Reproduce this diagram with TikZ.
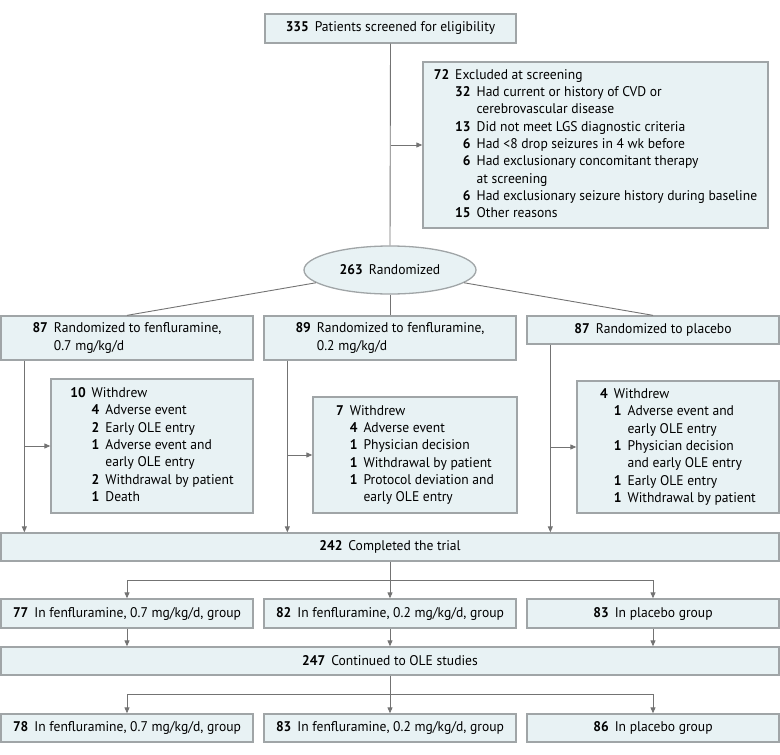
\documentclass[tikz,border=0pt]{standalone}
\usepackage{fontspec}
\setmainfont{PT Sans}[FakeStretch=0.97]
\usetikzlibrary{arrows.meta,shapes.geometric,calc}
\definecolor{boxfill}{RGB}{232,242,244}
\definecolor{boxline}{RGB}{160,165,167}
\definecolor{linecol}{RGB}{115,115,115}
\newcommand\nb[1]{\textbf{#1}}
\tikzset{
  box/.style={draw=boxline, line width=1.3pt, fill=boxfill, inner sep=0pt, align=center,
    font=\fontsize{14}{17.3}\selectfont},
  conn/.style={draw=linecol, line width=0.9pt},
  arr/.style={conn, -{Triangle[length=6pt,width=5pt]}},
}
\begin{document}
\begin{tikzpicture}[x=1pt,y=-1pt]
\useasboundingbox (0,0) rectangle (780,755);

\node[box, minimum width=251, minimum height=29] (scr) at (390.5,28.5)
  {\nb{335}\hspace{6pt}Patients screened for eligibility};

\node[box, minimum width=345, minimum height=166] (excl) at (595.5,145)
  {\begin{tabular}{@{}r@{\hspace{6pt}}r@{\hspace{6pt}}l@{}}
  \nb{72} & \multicolumn{2}{@{}l@{}}{Excluded at screening}\\
  & \nb{32} & Had current or history of CVD or\\
  & & cerebrovascular disease\\
  & \nb{13} & Did not meet LGS diagnostic criteria\\
  & \nb{6} & Had <8 drop seizures in 4 wk before\\
  & \nb{6} & Had exclusionary concomitant therapy\\
  & & at screening\\
  & \nb{6} & Had exclusionary seizure history during baseline\\
  & \nb{15} & Other reasons
  \end{tabular}};

\node[box, ellipse, minimum width=172, minimum height=48] (rand) at (390,270)
  {\nb{263}\hspace{6pt}Randomized};

\node[box, minimum width=252, minimum height=44] (g1) at (127,338)
  {\begin{tabular}{@{}r@{\hspace{6pt}}l@{}}
  \nb{87} & Randomized to fenfluramine,\\
  & 0.7 mg/kg/d
  \end{tabular}};
\node[box, minimum width=252, minimum height=44] (g2) at (390,338)
  {\begin{tabular}{@{}r@{\hspace{6pt}}l@{}}
  \nb{89} & Randomized to fenfluramine,\\
  & 0.2 mg/kg/d
  \end{tabular}};
\node[box, minimum width=252, minimum height=28] (g3) at (653,330)
  {\nb{87}\hspace{6pt}Randomized to placebo};

\node[box, minimum width=202, minimum height=134] (w1) at (152,446)
  {\begin{tabular}{@{}r@{\hspace{6pt}}r@{\hspace{6pt}}l@{}}
  \nb{10} & \multicolumn{2}{@{}l@{}}{Withdrew}\\
  & \nb{4} & Adverse event\\
  & \nb{2} & Early OLE entry\\
  & \nb{1} & Adverse event and\\
  & & early OLE entry\\
  & \nb{2} & Withdrawal by patient\\
  & \nb{1} & Death
  \end{tabular}};
\node[box, minimum width=204, minimum height=116] (w2) at (415,455)
  {\begin{tabular}{@{}r@{\hspace{6pt}}r@{\hspace{6pt}}l@{}}
  \nb{7} & \multicolumn{2}{@{}l@{}}{Withdrew}\\
  & \nb{4} & Adverse event\\
  & \nb{1} & Physician decision\\
  & \nb{1} & Withdrawal by patient\\
  & \nb{1} & Protocol deviation and\\
  & & early OLE entry
  \end{tabular}};
\node[box, minimum width=202, minimum height=132] (w3) at (678,447)
  {\begin{tabular}{@{}r@{\hspace{6pt}}r@{\hspace{6pt}}l@{}}
  \nb{4} & \multicolumn{2}{@{}l@{}}{Withdrew}\\
  & \nb{1} & Adverse event and\\
  & & early OLE entry\\
  & \nb{1} & Physician decision\\
  & & and early OLE entry\\
  & \nb{1} & Early OLE entry\\
  & \nb{1} & Withdrawal by patient
  \end{tabular}};

\node[box, minimum width=778, minimum height=28] (done) at (390,547)
  {\nb{242}\hspace{6pt}Completed the trial};

\node[box, minimum width=252, minimum height=29] (h1) at (127,613.5)
  {\nb{77}\hspace{6pt}In fenfluramine, 0.7 mg/kg/d, group};
\node[box, minimum width=252, minimum height=29] (h2) at (390,613.5)
  {\nb{82}\hspace{6pt}In fenfluramine, 0.2 mg/kg/d, group};
\node[box, minimum width=252, minimum height=29] (h3) at (653,613.5)
  {\nb{83}\hspace{6pt}In placebo group};

\node[box, minimum width=778, minimum height=28] (ole) at (390,661)
  {\nb{247}\hspace{6pt}Continued to OLE studies};

\node[box, minimum width=252, minimum height=28] (k1) at (127,728)
  {\nb{78}\hspace{6pt}In fenfluramine, 0.7 mg/kg/d, group};
\node[box, minimum width=252, minimum height=28] (k2) at (390,728)
  {\nb{83}\hspace{6pt}In fenfluramine, 0.2 mg/kg/d, group};
\node[box, minimum width=252, minimum height=28] (k3) at (653,728)
  {\nb{86}\hspace{6pt}In placebo group};

% connectors
\draw[conn] (scr.south) -- (rand.north);
\coordinate (e1) at (scr.south |- excl.west);
\draw[arr] (e1) -- (excl.west);
\draw[conn] (rand) -- (g1.north);
\draw[conn] (rand.south) -- (g2.north);
\draw[conn] (rand) -- (g3.north);

\coordinate (v1) at ([xshift=24]g1.south west);
\coordinate (v2) at ([xshift=24]g2.south west);
\coordinate (v3) at ([xshift=24]g3.south west);
\draw[arr] (v1) -- (v1 |- done.north);
\draw[arr] (v2) -- (v2 |- done.north);
\draw[arr] (v3) -- (v3 |- done.north);
\draw[arr] (v1 |- w1.west) -- (w1.west);
\draw[arr] (v2 |- w2.west) -- (w2.west);
\draw[arr] (v3 |- w3.west) -- (w3.west);

\coordinate (j1) at ($(done.south)!0.5!(h2.north)$);
\draw[conn] (done.south) -- (j1);
\draw[arr] (j1) -| (h1.north);
\draw[arr] (j1) -- (h2.north);
\draw[arr] (j1) -| (h3.north);

\draw[arr] (h1.south) -- (h1.south |- ole.north);
\draw[arr] (h2.south) -- (h2.south |- ole.north);
\draw[arr] (h3.south) -- (h3.south |- ole.north);

\coordinate (j2) at ($(ole.south)!0.5!(k2.north)$);
\draw[conn] (ole.south) -- (j2);
\draw[arr] (j2) -| (k1.north);
\draw[arr] (j2) -- (k2.north);
\draw[arr] (j2) -| (k3.north);
\end{tikzpicture}
\end{document}
